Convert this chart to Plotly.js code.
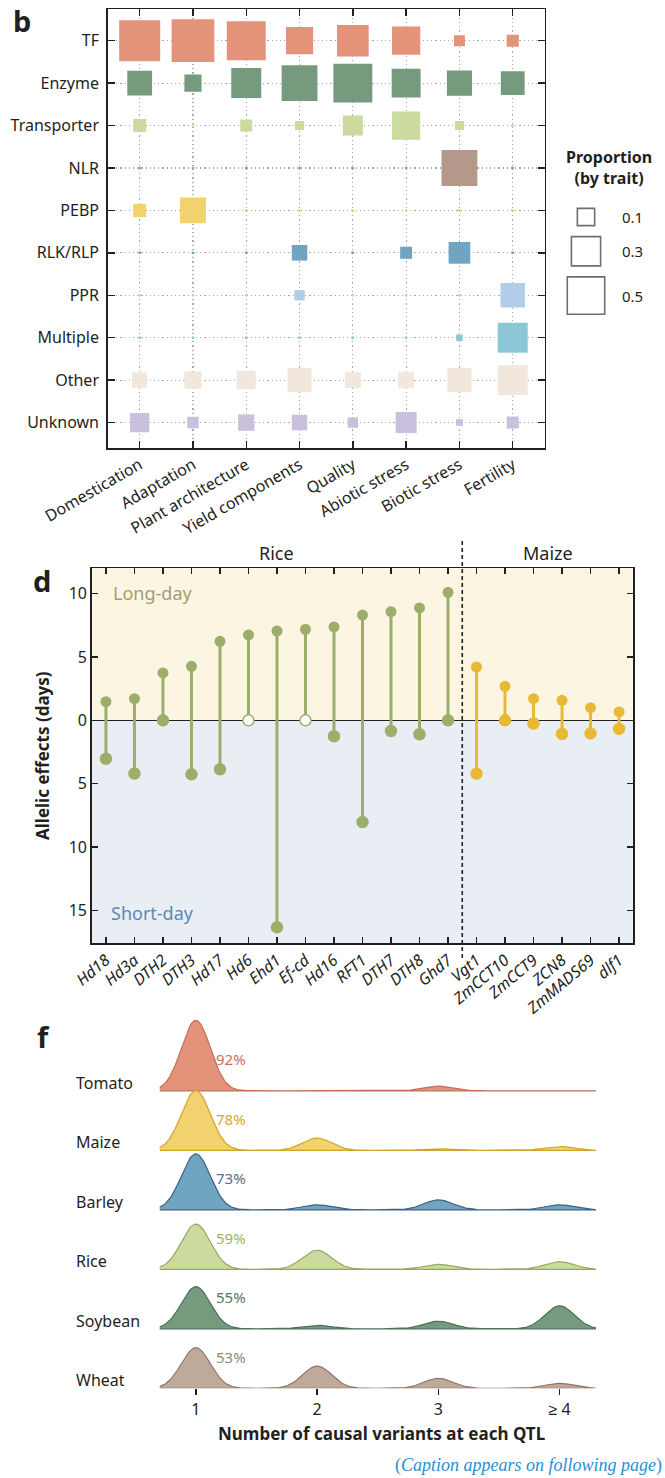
<!DOCTYPE html>
<html><head><meta charset="utf-8">
<script src="https://cdn.plot.ly/plotly-3.0.1.min.js"></script>
<style>html,body{margin:0;padding:0;background:#fff}#chart{width:665px;height:1478px}</style>
</head><body><div id="chart"></div>
<script>
// ---------- Panel b data ----------
const traits = ['Domestication','Adaptation','Plant architecture','Yield components','Quality','Abiotic stress','Biotic stress','Fertility'];
const geneClasses = ['TF','Enzyme','Transporter','NLR','PEBP','RLK/RLP','PPR','Multiple','Other','Unknown'];
const propTF          = [0.56, 0.61, 0.50, 0.23, 0.32, 0.25, 0.027, 0.035];
const propEnzyme      = [0.187, 0.081, 0.285, 0.418, 0.50, 0.263, 0.193, 0.171];
const propTransporter = [0.042, 0, 0.034, 0.016, 0.115, 0.249, 0.016, 0];
const propNLR         = [0, 0, 0, 0, 0, 0, 0.418, 0];
const propPEBP        = [0.042, 0.205, 0, 0, 0, 0, 0, 0];
const propRLK         = [0, 0, 0, 0.064, 0, 0.034, 0.139, 0];
const propPPR         = [0, 0, 0, 0.023, 0, 0, 0, 0.181];
const propMultiple    = [0, 0, 0, 0, 0, 0, 0.006, 0.285];
const propOther       = [0.061, 0.081, 0.101, 0.176, 0.067, 0.067, 0.176, 0.285];
const propUnknown     = [0.106, 0.03, 0.071, 0.064, 0.023, 0.129, 0.007, 0.035];
const legendProps = [0.1, 0.3, 0.5];

// ---------- Panel d data ----------
const genes = ['Hd18','Hd3a','DTH2','DTH3','Hd17','Hd6','Ehd1','Ef-cd','Hd16','RFT1','DTH7','DTH8','Ghd7','Vgt1','ZmCCT10','ZmCCT9','ZCN8','ZmMADS69','dlf1'];
const geneCrop = ['Rice','Rice','Rice','Rice','Rice','Rice','Rice','Rice','Rice','Rice','Rice','Rice','Rice','Maize','Maize','Maize','Maize','Maize','Maize'];
const longDayEffect  = [1.47, 1.71, 3.74, 4.26, 6.24, 6.74, 7.05, 7.18, 7.37, 8.31, 8.58, 8.87, 10.1, 4.21, 2.68, 1.71, 1.58, 1.0, 0.66];
const shortDayEffect = [3.03, 4.2, 0, 4.26, 3.87, 0, 16.34, 0, 1.26, 8.03, 0.84, 1.1, 0, 4.21, 0, 0.25, 1.08, 1.03, 0.68];
const shortDayOpen   = [false,false,false,false,false,true,false,true,false,false,false,false,false,false,false,false,false,false,false];

// ---------- Panel f data ----------
const species = ['Tomato','Maize','Barley','Rice','Soybean','Wheat'];
const variantCounts = ['1','2','3','≥ 4'];
const propTomato  = [0.92, 0, 0.06, 0];
const propMaize   = [0.78, 0.16, 0.02, 0.05];
const propBarley  = [0.73, 0.065, 0.13, 0.065];
const propRice    = [0.59, 0.25, 0.065, 0.10];
const propSoybean = [0.55, 0.045, 0.10, 0.30];
const propWheat   = [0.53, 0.29, 0.13, 0.065];

// ---------- helpers ----------
const W = 665, H = 1478;
const px = v => v / W;
const py = v => 1 - v / H;
const FONT = 'Noto Sans, sans-serif';
const INK = '#231F20';
const sizeOf = p => 2.5 + 51.5 * Math.sqrt(p);

const traces = [];
const annotations = [];
const shapes = [];

// ---------- Panel b ----------
const classProps = [propTF, propEnzyme, propTransporter, propNLR, propPEBP, propRLK, propPPR, propMultiple, propOther, propUnknown];
const classColors = ['#E4937B','#769A7D','#CBDA9D','#B49889','#F2D16F','#70A5C2','#B2CDE7','#8CC7D7','#F2E7DC','#C8C0DC'];
geneClasses.forEach((c, i) => {
  traces.push({
    type: 'scatter', mode: 'markers', xaxis: 'x', yaxis: 'y',
    x: traits, y: traits.map(() => c),
    marker: {symbol: 'square', size: classProps[i].map(sizeOf), color: classColors[i], opacity: 1, line: {width: 0}},
    hoverinfo: 'skip', showlegend: false
  });
});
// size legend
const legSizes = legendProps.map(sizeOf);
const legY = [];
legSizes.forEach((s, i) => { legY.push(i === 0 ? 17 : legY[i-1] + (legSizes[i-1] + s) / 2 + 9.5); });
traces.push({
  type: 'scatter', mode: 'markers', xaxis: 'x4', yaxis: 'y4',
  x: legendProps.map(() => 26), y: legY,
  marker: {symbol: 'square-open', size: legSizes.map(s => s - 1.5), color: '#6E6E6E', opacity: 1, line: {width: 1.6, color: '#6E6E6E'}},
  hoverinfo: 'skip', showlegend: false
});
legendProps.forEach((v, i) => {
  annotations.push({xref: 'x4', yref: 'y4', x: 60, y: legY[i], text: v.toFixed(1), showarrow: false,
    xanchor: 'left', yanchor: 'middle', font: {family: FONT, size: 15, color: INK}});
});
annotations.push({xref: 'paper', yref: 'paper', x: px(609), y: py(168), text: '<b>Proportion</b><br><b>(by trait)</b>',
  showarrow: false, xanchor: 'center', yanchor: 'middle', font: {family: FONT, size: 16, color: INK}});
annotations.push({xref: 'paper', yref: 'paper', x: px(22), y: py(21), text: '<b>b</b>', showarrow: false,
  xanchor: 'center', yanchor: 'middle', font: {family: FONT, size: 29, color: INK}});

// ---------- Panel d ----------
const cropColors = {Rice: '#9BAF6A', Maize: '#E8B935'};
['Rice', 'Maize'].forEach(crop => {
  const idx = genes.map((g, i) => i).filter(i => geneCrop[i] === crop);
  const col = cropColors[crop];
  const sx = [], sy = [];
  idx.forEach(i => { sx.push(genes[i], genes[i], null); sy.push(-shortDayEffect[i], longDayEffect[i], null); });
  traces.push({type: 'scatter', mode: 'lines', xaxis: 'x2', yaxis: 'y2', x: sx, y: sy,
    line: {color: col, width: 3}, hoverinfo: 'skip', showlegend: false, connectgaps: false});
  traces.push({type: 'scatter', mode: 'markers', xaxis: 'x2', yaxis: 'y2',
    x: idx.map(i => genes[i]), y: idx.map(i => longDayEffect[i]),
    marker: {symbol: 'circle', size: 11, color: col, opacity: 1, line: {width: 0}}, hoverinfo: 'skip', showlegend: false});
  traces.push({type: 'scatter', mode: 'markers', xaxis: 'x2', yaxis: 'y2',
    x: idx.map(i => genes[i]), y: idx.map(i => -shortDayEffect[i]),
    marker: {symbol: 'circle', size: 11, opacity: 1, color: idx.map(i => shortDayOpen[i] ? '#FFFFFF' : col),
      line: {width: 1.5, color: col}}, hoverinfo: 'skip', showlegend: false});
  const mid = idx.reduce((a, b) => a + b, 0) / idx.length;
  annotations.push({xref: 'x2', yref: 'paper', x: mid, y: py(553), text: crop, showarrow: false,
    xanchor: 'center', yanchor: 'middle', font: {family: FONT, size: 18, color: INK}});
});
const yTop = 12, yBot = -17.6;
shapes.push({type: 'rect', xref: 'x2 domain', yref: 'y2', x0: 0, x1: 1, y0: 0, y1: yTop, fillcolor: '#FBF5E2', line: {width: 0}, layer: 'below'});
shapes.push({type: 'rect', xref: 'x2 domain', yref: 'y2', x0: 0, x1: 1, y0: yBot, y1: 0, fillcolor: '#E9EEF5', line: {width: 0}, layer: 'below'});
shapes.push({type: 'line', xref: 'x2', yref: 'paper', x0: 12.5, x1: 12.5, y0: py(958), y1: py(541),
  line: {color: INK, width: 1.6, dash: '4px,3px'}});
annotations.push({xref: 'paper', yref: 'paper', x: px(111), y: py(593), text: 'Long-day', showarrow: false,
  xanchor: 'left', yanchor: 'middle', font: {family: FONT, size: 18, color: '#A39D74'}});
annotations.push({xref: 'paper', yref: 'paper', x: px(109), y: py(913), text: 'Short-day', showarrow: false,
  xanchor: 'left', yanchor: 'middle', font: {family: FONT, size: 18, color: '#5B87B4'}});
annotations.push({xref: 'paper', yref: 'paper', x: px(42), y: py(756), text: '<b>Allelic effects (days)</b>', showarrow: false,
  textangle: -90, xanchor: 'center', yanchor: 'middle', font: {family: FONT, size: 17, color: INK}});
annotations.push({xref: 'paper', yref: 'paper', x: px(42), y: py(580), text: '<b>d</b>', showarrow: false,
  xanchor: 'center', yanchor: 'middle', font: {family: FONT, size: 29, color: INK}});

// ---------- Panel f ----------
const speciesProps = [propTomato, propMaize, propBarley, propRice, propSoybean, propWheat];
const fillColors = ['#E4937B','#F2D16F','#70A5C2','#CBDA9D','#769A7D','#BFA99B'];
const lineColors = ['#C56C57','#D0A52B','#40607F','#96A866','#4C6F55','#8C7669'];
const pctColors  = ['#C8705A','#D4AA33','#5A6C96','#9DB06A','#4F7A5E','#9A8478'];
const ridgeStep = 59.5 / 76.5;  // baseline spacing in proportion units
const sigma = 0.12;
const grid = [];
for (let k = 0; k <= 360; k++) grid.push(0.7 + k * 0.01);
species.forEach((sp, i) => {
  const off = (species.length - 1 - i) * ridgeStep;
  const p = speciesProps[i];
  const curve = grid.map(x => off + p.reduce((acc, v, j) => acc + v * Math.exp(-Math.pow(x - (j + 1), 2) / (2 * sigma * sigma)), 0));
  traces.push({type: 'scatter', mode: 'lines', xaxis: 'x3', yaxis: 'y3',
    x: grid.concat(grid.slice().reverse()), y: curve.concat(grid.map(() => off)),
    fill: 'toself', fillcolor: fillColors[i], line: {color: lineColors[i], width: 1.2},
    hoverinfo: 'skip', showlegend: false});
  annotations.push({xref: 'paper', yref: 'y3', x: px(74), y: off, yshift: 8, text: sp, showarrow: false,
    xanchor: 'left', yanchor: 'middle', font: {family: FONT, size: 16, color: INK}});
  annotations.push({xref: 'x3', yref: 'y3', x: 1.15, y: off, yshift: 31.5, text: Math.round(p[0] * 100) + '%', showarrow: false,
    xanchor: 'left', yanchor: 'middle', font: {family: FONT, size: 15, color: pctColors[i]}});
});
annotations.push({xref: 'paper', yref: 'paper', x: px(382), y: py(1433), text: '<b>Number of causal variants at each QTL</b>', showarrow: false,
  xanchor: 'center', yanchor: 'middle', font: {family: FONT, size: 17, color: INK}});
annotations.push({xref: 'paper', yref: 'paper', x: px(664), y: py(1465), text: '(<i>Caption appears on following page</i>)', showarrow: false,
  xanchor: 'right', yanchor: 'middle', font: {family: 'Liberation Serif, serif', size: 18, color: '#2A8FD4'}});
annotations.push({xref: 'paper', yref: 'paper', x: px(44), y: py(1036), text: '<b>f</b>', showarrow: false,
  xanchor: 'center', yanchor: 'middle', font: {family: FONT, size: 29, color: INK}});

// ---------- axes ----------
const boxAxis = {
  showline: true, linecolor: INK, linewidth: 1.5, mirror: 'ticks',
  ticks: 'inside', ticklen: 7, tickwidth: 1.4, tickcolor: INK,
  zeroline: false, tickfont: {family: FONT, size: 16, color: INK}
};
const layout = {
  width: W, height: H, margin: {l: 0, r: 0, t: 0, b: 0},
  paper_bgcolor: '#FFFFFF', plot_bgcolor: 'rgba(0,0,0,0)', showlegend: false,
  font: {family: FONT, color: INK},
  xaxis: Object.assign({}, boxAxis, {domain: [px(107.7), px(544.7)], anchor: 'y', type: 'category',
    categoryorder: 'array', categoryarray: traits, range: [-0.6, 7.6], tickangle: -30,
    showgrid: true, gridcolor: '#A8A8A8', griddash: '1.2px,3px', gridwidth: 1.2}),
  yaxis: Object.assign({}, boxAxis, {domain: [py(448), py(9.3)], anchor: 'x', type: 'category',
    categoryorder: 'array', categoryarray: geneClasses, range: [9.6, -0.74],
    showgrid: true, gridcolor: '#A8A8A8', griddash: '1.2px,3px', gridwidth: 1.2, ticklabelstandoff: 4}),
  xaxis2: Object.assign({}, boxAxis, {domain: [px(91.7), px(633.3)], anchor: 'y2', type: 'category',
    categoryorder: 'array', categoryarray: genes, range: [-0.5, 18.5], tickangle: -40, ticklen: 6,
    showgrid: false, tickfont: {family: FONT, size: 16, color: INK, style: 'italic'}}),
  yaxis2: Object.assign({}, boxAxis, {domain: [py(943.3), py(568.3)], anchor: 'x2', range: [yBot, yTop],
    tickvals: [-15, -10, -5, 0, 5, 10], ticktext: ['15', '10', '5', '0', '5', '10'], ticklen: 6,
    showgrid: false, zeroline: true, zerolinecolor: INK, zerolinewidth: 1.6}),
  xaxis3: {domain: [px(159.5), px(596)], anchor: 'y3', range: [0.7, 4.3],
    tickvals: [1, 2, 3, 4], ticktext: variantCounts, ticks: 'outside', ticklen: 6, tickwidth: 1.3, tickcolor: INK,
    showline: false, showgrid: false, zeroline: false, tickfont: {family: FONT, size: 16, color: INK}},
  yaxis3: {domain: [py(1388.3), py(1010)], anchor: 'x3', range: [0, 4.945], visible: false},
  xaxis4: {domain: [px(560), px(660)], anchor: 'y4', range: [0, 100], visible: false},
  yaxis4: {domain: [py(330), py(200)], anchor: 'x4', range: [130, 0], visible: false},
  shapes: shapes, annotations: annotations
};
Plotly.newPlot('chart', traces, layout, {staticPlot: true, displayModeBar: false});
</script></body></html>
